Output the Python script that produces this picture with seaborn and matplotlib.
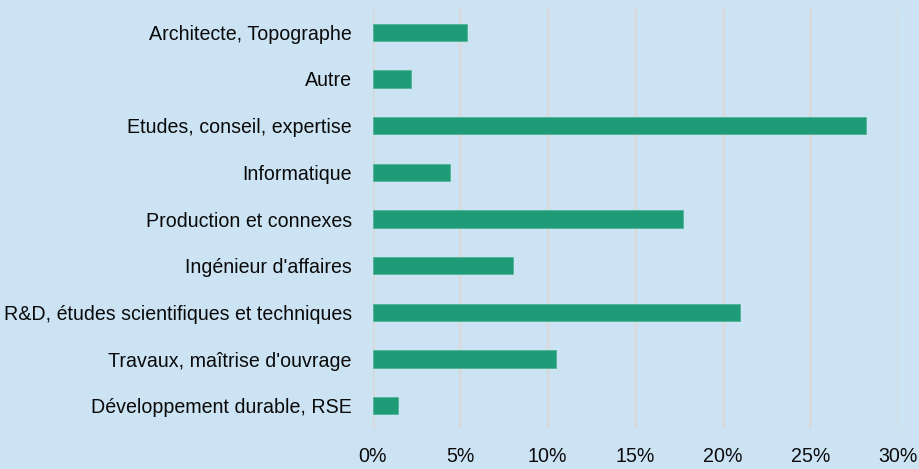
import pandas as pd
import matplotlib
matplotlib.use("Agg")
import matplotlib.pyplot as plt
import seaborn as sns
from matplotlib.ticker import PercentFormatter

categories = [
    "Architecte, Topographe",
    "Autre",
    "Etudes, conseil, expertise",
    "Informatique",
    "Production et connexes",
    "Ingénieur d'affaires",
    "R&D, études scientifiques et techniques",
    "Travaux, maîtrise d'ouvrage",
    "Développement durable, RSE",
]
shares = [5.4, 2.2, 28.2, 4.4, 17.7, 8.0, 21.0, 10.5, 1.45]
x_ticks = [0, 5, 10, 15, 20, 25, 30]

df = pd.DataFrame({"Secteur": categories, "Part": shares})

bg = "#cce3f4"
bar_color = "#1f9b78"

sns.set_theme(style="white")
plt.rcParams["font.family"] = ["Liberation Sans", "DejaVu Sans"]

fig = plt.figure(figsize=(9.2, 4.69), dpi=100, facecolor=bg)
ax = fig.add_axes([0.405, 0.085, 0.571, 0.896])
ax.set_facecolor(bg)

sns.barplot(data=df, x="Part", y="Secteur", orient="h", color=bar_color,
            saturation=1, width=0.37, edgecolor="#4fb596", linewidth=0.6,
            ax=ax, zorder=3)

ax.set_xlim(0, 30)
ax.set_xticks(x_ticks)
ax.xaxis.set_major_formatter(PercentFormatter(decimals=0))
ax.grid(axis="x", color="#d9d9d9", linewidth=1.8, zorder=0)
ax.set_axisbelow(True)
for s in ax.spines.values():
    s.set_visible(False)

ax.tick_params(axis="y", length=0, pad=15, labelsize=14.1, labelcolor="#0a0a0a")
ax.tick_params(axis="x", length=0, pad=13, labelsize=14.1, labelcolor="#0a0a0a")
ax.set_xlabel("")
ax.set_ylabel("")

fig.savefig("out.png", dpi=100, facecolor=bg)
